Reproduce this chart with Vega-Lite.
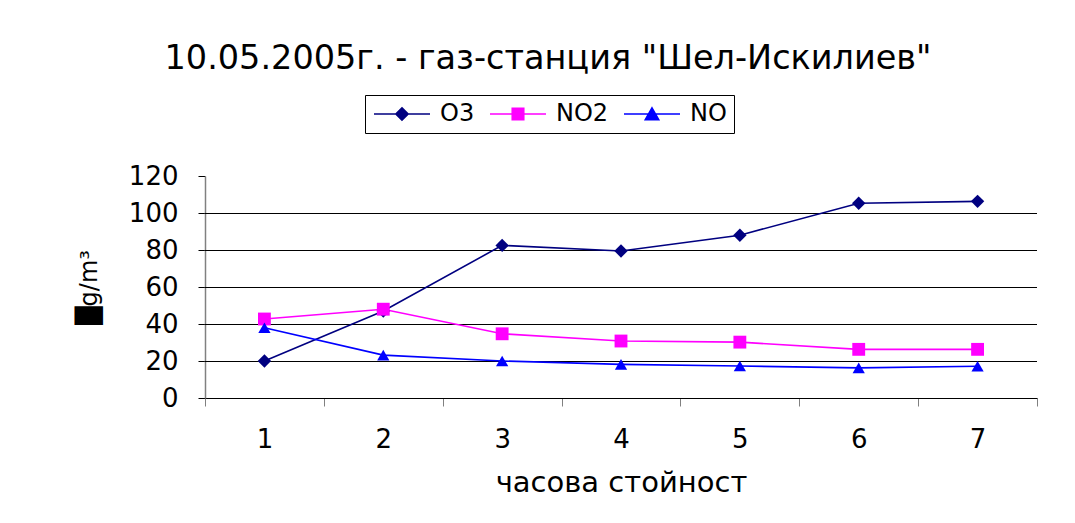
{
  "$schema": "https://vega.github.io/schema/vega-lite/v6.json",
  "autosize": {"type": "none"},
  "width": 832,
  "height": 222,
  "padding": {"left": 205, "top": 176, "right": 38, "bottom": 125},
  "background": "white",
  "config": {
    "font": "DejaVu Sans",
    "view": {"stroke": null}
  },
  "title": {
    "text": "10.05.2005г. - газ-станция \"Шел-Искилиев\"",
    "font": "DejaVu Sans",
    "fontSize": 33.5,
    "fontWeight": "normal",
    "color": "black",
    "anchor": "middle",
    "dx": -73,
    "offset": 18
  },
  "datasets": {
    "series": [
      {"hour": 1, "gas": "O3", "value": 20},
      {"hour": 2, "gas": "O3", "value": 47},
      {"hour": 3, "gas": "O3", "value": 82.5},
      {"hour": 4, "gas": "O3", "value": 79.5},
      {"hour": 5, "gas": "O3", "value": 88},
      {"hour": 6, "gas": "O3", "value": 105.3},
      {"hour": 7, "gas": "O3", "value": 106.3},
      {"hour": 1, "gas": "NO2", "value": 42.7},
      {"hour": 2, "gas": "NO2", "value": 48},
      {"hour": 3, "gas": "NO2", "value": 34.7},
      {"hour": 4, "gas": "NO2", "value": 30.8},
      {"hour": 5, "gas": "NO2", "value": 30.2},
      {"hour": 6, "gas": "NO2", "value": 26.3},
      {"hour": 7, "gas": "NO2", "value": 26.3},
      {"hour": 1, "gas": "NO", "value": 38},
      {"hour": 2, "gas": "NO", "value": 23.2},
      {"hour": 3, "gas": "NO", "value": 20},
      {"hour": 4, "gas": "NO", "value": 18.2},
      {"hour": 5, "gas": "NO", "value": 17.3},
      {"hour": 6, "gas": "NO", "value": 16.3},
      {"hour": 7, "gas": "NO", "value": 17.2}
    ],
    "grid": [{"value": 20}, {"value": 40}, {"value": 60}, {"value": 80}, {"value": 100}]
  },
  "encoding": {
    "y": {
      "field": "value", "type": "quantitative",
      "scale": {"domain": [0, 120], "nice": false},
      "axis": {
        "values": [0, 20, 40, 60, 80, 100, 120],
        "labelOverlap": false,
        "grid": false,
        "tickSize": 7,
        "tickColor": "black",
        "domainColor": "#808080",
        "domainWidth": 1.5,
        "labelFontSize": 26,
        "labelColor": "black",
        "labelPadding": 20,
        "title": "█g/m³",
        "titleFontSize": 24,
        "titleFontWeight": "normal",
        "titleColor": "black",
        "titlePadding": 27
      }
    }
  },
  "resolve": {"scale": {"color": "independent"}},
  "layer": [
    {
      "data": {"name": "grid"},
      "mark": {"type": "rule", "color": "black", "strokeWidth": 1, "yOffset": 0.5},
      "encoding": {}
    },
    {
      "data": {"name": "series"},
      "mark": {"type": "line", "strokeWidth": 1.6},
      "encoding": {
        "x": {
          "field": "hour", "type": "quantitative",
          "scale": {"domain": [0.5, 7.5], "nice": false, "zero": false},
          "axis": {
            "values": [0.5, 1, 1.5, 2, 2.5, 3, 3.5, 4, 4.5, 5, 5.5, 6, 6.5, 7, 7.5],
            "labelExpr": "datum.value % 1 === 0 ? format(datum.value, 'd') : ''",
            "labelOverlap": false,
            "labelFlush": false,
            "tickOpacity": {"condition": {"test": "datum.value % 1 === 0", "value": 0}, "value": 1},
            "tickSize": 8,
            "tickColor": "#808080",
            "domainColor": "black",
            "domainWidth": 1.2,
            "grid": false,
            "labelFontSize": 26,
            "labelColor": "black",
            "labelPadding": 20,
            "title": "часова стойност",
            "titleFontSize": 29,
            "titleFontWeight": "normal",
            "titleColor": "black",
            "titlePadding": 16
          }
        },
        "color": {
          "field": "gas", "type": "nominal",
          "scale": {"domain": ["O3", "NO2", "NO"], "range": ["#000080", "#FF00FF", "#0000FF"]},
          "legend": {
            "orient": "none",
            "legendX": 160,
            "legendY": -81,
            "direction": "horizontal",
            "title": null,
            "strokeColor": "black",
            "padding": 7,
            "labelFontSize": 24,
            "labelColor": "black",
            "labelOffset": 44,
            "columnPadding": 12,
            "symbolSize": 400,
            "symbolStrokeWidth": 1.5,
            "encode": {
              "symbols": {
                "update": {
                  "shape": {"signal": "datum.value === 'O3' ? 'M-1,0H4.6M1.8,-0.62L2.42,0L1.8,0.62L1.18,0Z' : datum.value === 'NO2' ? 'M-1,0H4.6M1.22,-0.58H2.38V0.58H1.22Z' : 'M-1,0H4.6M1.8,-0.62L2.48,0.58H1.12Z'"},
                  "fill": {"signal": "datum.value === 'O3' ? '#000080' : datum.value === 'NO2' ? '#FF00FF' : '#0000FF'"},
                  "strokeWidth": {"value": 1.5}
                }
              }
            }
          }
        },
        "detail": {"field": "gas"}
      }
    },
    {
      "data": {"name": "series"},
      "mark": {"type": "point", "filled": true, "opacity": 1},
      "encoding": {
        "x": {
          "field": "hour", "type": "quantitative",
          "axis": {
            "values": [0.5, 1, 1.5, 2, 2.5, 3, 3.5, 4, 4.5, 5, 5.5, 6, 6.5, 7, 7.5],
            "labelExpr": "datum.value % 1 === 0 ? format(datum.value, 'd') : ''",
            "labelOverlap": false,
            "labelFlush": false,
            "tickOpacity": {"condition": {"test": "datum.value % 1 === 0", "value": 0}, "value": 1},
            "tickSize": 8,
            "tickColor": "#808080",
            "domainColor": "black",
            "domainWidth": 1.2,
            "grid": false,
            "labelFontSize": 26,
            "labelColor": "black",
            "labelPadding": 20,
            "title": "часова стойност",
            "titleFontSize": 29,
            "titleFontWeight": "normal",
            "titleColor": "black",
            "titlePadding": 16
          }
        },
        "color": {
          "field": "gas", "type": "nominal",
          "scale": {"domain": ["O3", "NO2", "NO"], "range": ["#000080", "#FF00FF", "#0000FF"]},
          "legend": null
        },
        "shape": {
          "field": "gas", "type": "nominal",
          "scale": {"domain": ["O3", "NO2", "NO"], "range": ["diamond", "square", "triangle-up"]},
          "legend": null
        },
        "size": {
          "field": "gas", "type": "nominal",
          "scale": {"domain": ["O3", "NO2", "NO"], "range": [180, 150, 200]},
          "legend": null
        }
      }
    }
  ]
}
